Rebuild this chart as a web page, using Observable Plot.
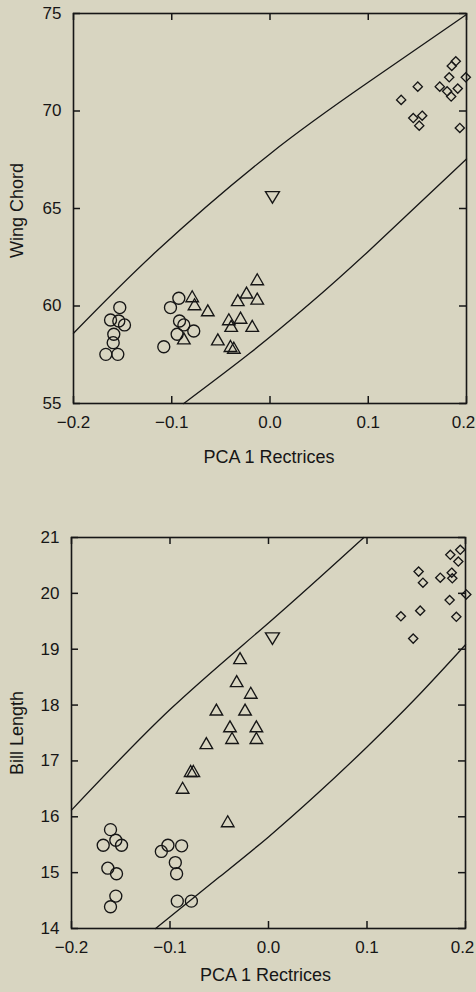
<!DOCTYPE html>
<html><head><meta charset="utf-8">
<script src="https://cdn.jsdelivr.net/npm/d3@7"></script>
<script src="https://cdn.jsdelivr.net/npm/@observablehq/plot@0.6"></script>
<style>
html,body{margin:0;padding:0;background:#d8d5c1;}
#chart svg{display:block;}
</style></head><body><div id="chart"></div>
<script>
// ---------- shared axis content ----------
const xTicks = [-0.2, -0.1, 0.0, 0.1, 0.2];
const wingTicks = [55, 60, 65, 70, 75];
const billTicks = [14, 15, 16, 17, 18, 19, 20, 21];
const xTitle = "PCA 1 Rectrices";
const wingTitle = "Wing Chord";
const billTitle = "Bill Length";

// ---------- panel 1: Wing Chord ----------
const wingCircleX = [-0.1529,-0.1623,-0.1539,-0.1481,-0.1590,-0.1596,-0.1671,-0.1549,-0.0928,-0.1013,-0.0921,-0.0877,-0.0776,-0.0945,-0.1081];
const wingCircleY = [59.92,59.28,59.23,59.03,58.55,58.12,57.52,57.52,60.40,59.92,59.23,59.03,58.72,58.55,57.91];
const wingTriX = [-0.0792,-0.0768,-0.0633,-0.0877,-0.0531,-0.0419,-0.0395,-0.0300,-0.0328,-0.0239,-0.0130,-0.0130,-0.0181,-0.0402,-0.0368];
const wingTriY = [60.50,60.09,59.78,58.34,58.29,59.32,58.98,59.40,60.30,60.69,61.37,60.38,58.98,57.95,57.86];
const wingInvX = [0.0025];
const wingInvY = [65.57];
const wingDiaX = [0.1335,0.1504,0.1458,0.1549,0.1519,0.1728,0.1824,0.1850,0.1891,0.1803,0.1844,0.1911,0.1993,0.1932];
const wingDiaY = [70.57,71.25,69.64,69.76,69.25,71.25,71.73,72.31,72.55,71.01,70.74,71.15,71.73,69.13];
const wingUpperX = [-0.200,-0.115,0.000,0.100,0.200];
const wingUpperY = [58.60,62.83,67.80,71.47,74.95];
const wingLowerX = [-0.0878,-0.020,0.040,0.100,0.200];
const wingLowerY = [55.00,57.60,60.10,62.80,67.54];

// ---------- panel 2: Bill Length ----------
const billCircleX = [-0.1604,-0.1678,-0.1550,-0.1492,-0.1631,-0.1543,-0.1550,-0.1604,-0.1088,-0.1021,-0.0882,-0.0946,-0.0933,-0.0926,-0.0783];
const billCircleY = [15.77,15.49,15.58,15.49,15.08,14.98,14.58,14.39,15.38,15.49,15.48,15.18,14.98,14.49,14.49];
const billTriX = [-0.0289,-0.0323,-0.0180,-0.0529,-0.0238,-0.0391,-0.0123,-0.0370,-0.0123,-0.0631,-0.0790,-0.0763,-0.0872,-0.0414];
const billTriY = [18.84,18.43,18.22,17.92,17.92,17.62,17.62,17.41,17.41,17.32,16.82,16.82,16.52,15.92];
const billInvX = [0.0040];
const billInvY = [19.19];
const billDiaX = [0.1344,0.1469,0.1540,0.1524,0.1568,0.1744,0.1839,0.1860,0.1866,0.1846,0.1947,0.1927,0.2008,0.1907];
const billDiaY = [19.59,19.19,19.69,20.39,20.19,20.28,19.88,20.37,20.27,20.69,20.78,20.57,19.98,19.58];
const billUpperX = [-0.200,-0.100,0.000,0.0968];
const billUpperY = [16.12,17.92,19.47,21.00];
const billLowerX = [-0.1146,-0.050,0.000,0.050,0.100,0.150,0.200];
const billLowerY = [14.00,14.92,15.64,16.42,17.25,18.13,19.08];

// ---------- helpers ----------
const rows = (xs, ys) => xs.map((x, i) => ({x, y: ys[i]}));
const ink = "#161616";
const triUp = {draw(c) { const w = 6.3, h = 5.5; c.moveTo(0, -h); c.lineTo(w, h); c.lineTo(-w, h); c.closePath(); }};
const triDown = {draw(c) { const w = 7, h = 5.8; c.moveTo(-w, -h); c.lineTo(w, -h); c.lineTo(0, h); c.closePath(); }};
const diamond = {draw(c) { const s = 4.6; c.moveTo(0, -s); c.lineTo(s, 0); c.lineTo(0, s); c.lineTo(-s, 0); c.closePath(); }};
const fmt = d => (d < 0 ? "\u2212" : "") + Math.abs(d).toFixed(1);

function panel(o) {
  const W = 476, TL = 7;
  const innerW = W - o.ml - o.mr, innerH = o.height - o.mt - o.mb;
  const markStyle = {fill: "none", stroke: ink, strokeWidth: 1.35};
  return Plot.plot({
    width: W, height: o.height,
    marginTop: o.mt, marginBottom: o.mb, marginLeft: o.ml, marginRight: o.mr,
    style: {fontFamily: "'Liberation Sans', Arial, sans-serif", background: "transparent", color: ink},
    x: {domain: [-0.2, 0.2]},
    y: {domain: o.yDomain},
    marks: [
      // frame and inward ticks on all four sides (short rules inset from the frame)
      Plot.frame({stroke: ink, strokeWidth: 1.6}),
      Plot.ruleX(xTicks, {x: d => d, insetTop: innerH - TL, stroke: ink, strokeWidth: 1.5}),
      Plot.ruleX(xTicks, {x: d => d, insetBottom: innerH - TL, stroke: ink, strokeWidth: 1.5}),
      Plot.ruleY(o.yTicks, {y: d => d, insetRight: innerW - TL, stroke: ink, strokeWidth: 1.5}),
      Plot.ruleY(o.yTicks, {y: d => d, insetLeft: innerW - TL, stroke: ink, strokeWidth: 1.5}),
      // tick labels
      Plot.axisX(xTicks.slice(0, 4), {anchor: "bottom", tickSize: 0, tickPadding: 12, tickFormat: fmt, label: null, fontSize: 17}),
      Plot.axisX(xTicks.slice(4), {anchor: "bottom", tickSize: 0, tickPadding: 12, tickFormat: fmt, label: null, fontSize: 17, dx: -3}),
      Plot.axisY(o.yTicks, {anchor: "left", tickSize: 0, tickPadding: 12, tickFormat: d => String(d), label: null, fontSize: 17}),
      // titles
      Plot.text([xTitle], {text: d => d, frameAnchor: "bottom", lineAnchor: "bottom", dy: o.xTitleDy, dx: o.xTitleDx, fontSize: 18}),
      Plot.text([o.yTitle], {text: d => d, frameAnchor: "left", textAnchor: "middle", rotate: -90, dx: o.yTitleDx, dy: o.yTitleDy, fontSize: 18}),
      // prediction curves
      Plot.line(rows(o.upperX, o.upperY), {x: "x", y: "y", curve: "natural", stroke: ink, strokeWidth: 1.3}),
      Plot.line(rows(o.lowerX, o.lowerY), {x: "x", y: "y", curve: "natural", stroke: ink, strokeWidth: 1.3}),
      // points
      Plot.dot(rows(o.circleX, o.circleY), {x: "x", y: "y", r: 6, ...markStyle}),
      Plot.dot(rows(o.triX, o.triY), {x: "x", y: "y", symbol: triUp, ...markStyle}),
      Plot.dot(rows(o.invX, o.invY), {x: "x", y: "y", symbol: triDown, ...markStyle}),
      Plot.dot(rows(o.diaX, o.diaY), {x: "x", y: "y", symbol: diamond, ...markStyle})
    ]
  });
}

const chart = document.getElementById("chart");
chart.append(panel({
  height: 480, mt: 13, mb: 77, ml: 73, mr: 10,
  yDomain: [55, 75], yTicks: wingTicks, yTitle: wingTitle,
  yTitleDx: -56, yTitleDy: 2, xTitleDy: 59, xTitleDx: -1,
  circleX: wingCircleX, circleY: wingCircleY, triX: wingTriX, triY: wingTriY,
  invX: wingInvX, invY: wingInvY, diaX: wingDiaX, diaY: wingDiaY,
  upperX: wingUpperX, upperY: wingUpperY, lowerX: wingLowerX, lowerY: wingLowerY
}));
chart.append(panel({
  height: 512, mt: 57, mb: 64, ml: 71, mr: 11,
  yDomain: [14, 21], yTicks: billTicks, yTitle: billTitle,
  yTitleDx: -54, yTitleDy: 0, xTitleDy: 52, xTitleDx: -3,
  circleX: billCircleX, circleY: billCircleY, triX: billTriX, triY: billTriY,
  invX: billInvX, invY: billInvY, diaX: billDiaX, diaY: billDiaY,
  upperX: billUpperX, upperY: billUpperY, lowerX: billLowerX, lowerY: billLowerY
}));
</script></body></html>
